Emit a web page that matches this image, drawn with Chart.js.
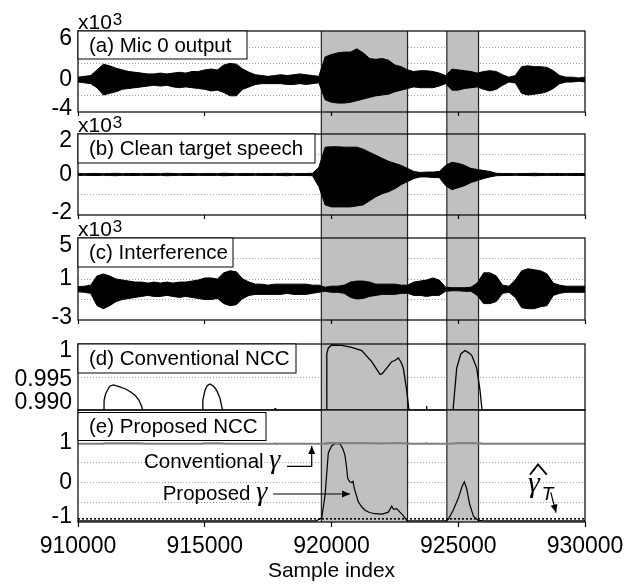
<!DOCTYPE html>
<html>
<head>
<meta charset="utf-8">
<script src="https://cdn.jsdelivr.net/npm/chart.js@4.4.1/dist/chart.umd.min.js"></script>
<style>
  body { margin: 0; background: #fff; }
  #wrap { position: relative; width: 641px; height: 584px; overflow: hidden; }
  canvas { position: absolute; left: 0; }
</style>
</head>
<body>
<div id="wrap">
  <canvas id="pa" width="641" height="134" style="top:0px"></canvas>
  <canvas id="pb" width="641" height="128" style="top:110px"></canvas>
  <canvas id="pc" width="641" height="129" style="top:215px"></canvas>
  <canvas id="pd" width="641" height="94" style="top:320px"></canvas>
  <canvas id="pe" width="641" height="184" style="top:400px"></canvas>
</div>
<script>
const X_MIN = 910000, X_MAX = 930000;

// speech regions (shaded)
const bandStart = [919600, 924550];
const bandEnd = [923000, 925800];

// waveform envelopes (x10^3), one value every 250 samples from 910000
const envStart = 910000, envStep = 250;

const micUpper = [0.3,0.4,0.5,1.2,1.9,1.7,1.4,1.2,1.0,0.9, 0.8,0.7,0.7,0.8,0.7,0.8,0.9,0.8,1.0,1.0,
  1.2,1.3,1.2,1.8,2.0,1.9,1.3,0.9,0.6,0.5, 0.4,0.5,0.6,0.5,0.6,0.7,0.6,0.5,0.4,2.8,
  3.1,3.3,3.4,3.4,3.8,3.3,2.6,2.5,2.6,2.4, 1.8,1.6,1.2,1.0,1.1,1.1,1.0,0.8,0.5,1.3,
  1.2,1.1,1.0,0.8,1.0,1.1,1.0,0.6,0.3,0.5, 1.6,1.7,1.6,1.6,1.5,1.1,0.5,0.3,0.3,0.2, 0.3];
const micLower = [-0.3,-0.4,-0.5,-1.0,-1.9,-1.7,-1.5,-1.2,-1.1,-1.0, -0.9,-0.8,-0.7,-0.8,-0.7,-0.9,-1.0,-0.9,-1.0,-1.1,
  -1.2,-1.4,-1.3,-1.6,-2.0,-2.0,-1.2,-0.9,-0.6,-0.5, -0.5,-0.5,-0.5,-0.6,-0.6,-0.5,-0.6,-0.5,-0.4,-2.5,
  -2.8,-2.9,-2.9,-2.8,-2.6,-2.4,-2.2,-2.0,-1.9,-1.8, -1.5,-1.3,-1.1,-0.9,-1.0,-1.0,-1.0,-0.8,-0.5,-1.3,
  -1.3,-1.1,-1.0,-0.9,-1.2,-1.4,-1.2,-0.7,-0.3,-0.4, -1.7,-1.9,-1.8,-1.7,-1.5,-1.1,-0.5,-0.3,-0.3,-0.2, -0.3];

const cleanUpper = [0.05,0.04,0.05,0.05,0.04,0.05,0.06,0.04,0.05,0.05, 0.04,0.05,0.05,0.04,0.06,0.05,0.04,0.05,0.05,0.04,
  0.05,0.05,0.04,0.06,0.05,0.04,0.05,0.05,0.04,0.05, 0.05,0.04,0.05,0.06,0.04,0.05,0.05,0.06,0.35,1.35,
  1.37,1.37,1.35,1.35,1.35,1.25,1.1,0.95,0.8,0.65, 0.55,0.45,0.3,0.15,0.1,0.12,0.12,0.15,0.45,0.6,
  0.55,0.45,0.3,0.25,0.2,0.15,0.06,0.05,0.05,0.04, 0.05,0.05,0.06,0.05,0.04,0.05,0.05,0.04,0.05,0.05, 0.05];
const cleanLower = [-0.05,-0.04,-0.05,-0.05,-0.04,-0.05,-0.06,-0.04,-0.05,-0.05, -0.04,-0.05,-0.05,-0.04,-0.06,-0.05,-0.04,-0.05,-0.05,-0.04,
  -0.05,-0.05,-0.04,-0.06,-0.05,-0.04,-0.05,-0.05,-0.04,-0.05, -0.05,-0.04,-0.05,-0.06,-0.04,-0.05,-0.05,-0.06,-0.6,-1.5,
  -1.6,-1.6,-1.6,-1.6,-1.55,-1.5,-1.3,-1.1,-0.95,-0.85, -0.7,-0.5,-0.35,-0.2,-0.12,-0.12,-0.15,-0.15,-0.55,-0.75,
  -0.65,-0.55,-0.4,-0.3,-0.2,-0.12,-0.06,-0.05,-0.05,-0.04, -0.05,-0.05,-0.06,-0.05,-0.04,-0.05,-0.05,-0.04,-0.05,-0.05, -0.05];

const interfUpper = [0.25,0.3,0.4,1.3,1.5,1.3,1.0,0.9,0.8,0.7, 0.7,0.6,0.7,0.6,0.7,0.6,0.7,0.7,0.8,0.9,
  1.1,1.1,1.0,1.6,1.8,1.7,1.0,0.7,0.5,0.5, 0.4,0.5,0.5,0.5,0.5,0.5,0.5,0.4,0.4,0.2,
  0.3,0.3,0.4,0.7,0.8,0.8,0.7,0.5,0.5,0.5, 0.5,0.4,0.4,0.7,0.8,0.9,1.1,0.9,0.2,0.15,
  0.15,0.15,0.2,0.6,1.6,1.6,1.3,0.4,0.3,0.9, 1.8,2.0,1.9,1.8,1.5,0.6,0.4,0.3,0.3,0.3, 0.3];
const interfLower = [-0.25,-0.3,-0.4,-1.6,-1.9,-1.6,-1.2,-1.0,-0.9,-0.8, -0.7,-0.6,-0.7,-0.7,-0.6,-0.7,-0.8,-0.7,-0.8,-0.9,
  -1.0,-1.0,-0.9,-1.4,-1.6,-1.5,-0.9,-0.6,-0.5,-0.5, -0.5,-0.5,-0.5,-0.4,-0.5,-0.5,-0.5,-0.4,-0.3,-0.2,
  -0.3,-0.3,-0.4,-0.8,-0.95,-0.9,-0.7,-0.6,-0.5,-0.5, -0.5,-0.4,-0.4,-0.6,-0.6,-0.7,-0.6,-0.6,-0.2,-0.15,
  -0.15,-0.2,-0.2,-0.6,-1.4,-1.4,-1.2,-0.4,-0.3,-0.8, -1.8,-1.9,-1.9,-1.7,-1.6,-0.6,-0.4,-0.3,-0.3,-0.3, -0.3];

// conventional NCC (panel d, and conventional gamma in panel e)
const nccX = [910000,911010,911030,911093,911250,911394,911650,911854,912050,912248,912400,912513,912578,912650,
  914900,914925,915010,915100,915207,915350,915471,915600,915669,915734,915800,
  917740,917772,917800,
  919790,919815,919875,920008,920400,920798,921192,921586,921914,922000,922178,922376,922500,922636,922750,922833,922967,923070,923150,
  923730,923755,923780,
  924790,924806,924939,925100,925267,925400,925531,925728,925859,925950,926050,
  930000];
const nccVal = [0.984,0.984,0.9915,0.9925,0.9936,0.9938,0.9935,0.99322,0.9928,0.99225,0.9915,0.99055,0.9895,0.984,
  0.984,0.9915,0.993,0.9937,0.99394,0.9936,0.99297,0.9918,0.99055,0.9895,0.984,
  0.984,0.9903,0.984,
  0.984,0.9985,0.9994,0.99985,0.9998,0.9995,0.99901,0.99732,0.99539,0.9955,0.99635,0.99732,0.9975,0.9979,0.9972,0.99635,0.99297,0.9895,0.984,
  0.984,0.9906,0.984,
  0.984,0.9905,0.99635,0.9985,0.99901,0.9987,0.99829,0.99635,0.99297,0.9895,0.984,
  0.984];

// proposed NCC (panel e)
const propX = [910000,919400,919614,919750,919874,920000,920140,920340,920450,920533,920600,920640,920720,920798,920850,920900,
  921058,921200,921322,921500,921717,922000,922241,922376,922450,922573,922700,922821,922967,923050,
  924500,924609,924800,925000,925150,925240,925330,925450,925600,925792,926000,930000];
const propVal = [-0.97,-0.97,-0.9,-0.3,0.75,0.93,0.99,0.98,0.85,0.69,0.35,0.1,0.02,0.0,0.03,-0.15,
  -0.49,-0.62,-0.7,-0.76,-0.79,-0.8,-0.75,-0.6,-0.68,-0.66,-0.75,-0.83,-0.96,-0.97,
  -0.97,-0.93,-0.7,-0.4,-0.1,0.02,-0.15,-0.55,-0.85,-0.96,-0.97,-0.97];

const gammaT = -0.92;

const SANS = '"Liberation Sans", Arial, sans-serif';
const SERIF = '"Liberation Serif", "Times New Roman", serif';

Chart.defaults.font.family = SANS;
Chart.defaults.color = '#000';
Chart.defaults.animation = false;

function envPoints(vals) {
  return vals.map((v, i) => ({ x: envStart + i * envStep, y: v }));
}
function xyPoints(xs, ys) {
  return xs.map((x, i) => ({ x: x, y: ys[i] }));
}

function decor(s) {
  return {
    id: 'decor' + s.name,
    beforeDatasetsDraw(chart) {
      const { ctx, chartArea: a } = chart;
      const x = chart.scales.x;
      const y1 = s.bandToCanvas ? chart.height : a.bottom;
      ctx.save();
      bandStart.forEach((b, i) => {
        const x0 = x.getPixelForValue(b), x1 = x.getPixelForValue(bandEnd[i]);
        ctx.fillStyle = '#c0c0c0';
        ctx.fillRect(x0, a.top, x1 - x0, y1 - a.top);
        ctx.strokeStyle = '#222';
        ctx.lineWidth = 1.2;
        ctx.beginPath();
        ctx.moveTo(x0, a.top); ctx.lineTo(x0, y1);
        ctx.moveTo(x1, a.top); ctx.lineTo(x1, y1);
        ctx.stroke();
      });
      ctx.restore();
    },
    afterDraw(chart) {
      const { ctx, chartArea: a } = chart;
      ctx.save();
      ctx.strokeStyle = '#000';
      ctx.lineWidth = 1.2;
      ctx.strokeRect(a.left, a.top, a.right - a.left, a.bottom - a.top);
      if (s.exp) {
        ctx.fillStyle = '#000';
        ctx.textAlign = 'left';
        ctx.textBaseline = 'alphabetic';
        ctx.font = '21px ' + SANS;
        ctx.fillText('x10', a.left, a.top - 2);
        const w = ctx.measureText('x10').width;
        ctx.font = '17px ' + SANS;
        ctx.fillText('3', a.left + w + 1, a.top - 6);
      }
      if (s.box) {
        const t = a.top + s.box.dy;
        ctx.fillStyle = '#fff';
        ctx.fillRect(a.left, t, s.box.right - a.left, s.box.h);
        ctx.lineWidth = 1;
        ctx.strokeRect(a.left, t, s.box.right - a.left, s.box.h);
        ctx.fillStyle = '#000';
        ctx.font = '20.5px ' + SANS;
        ctx.textAlign = 'left';
        ctx.textBaseline = 'middle';
        ctx.fillText(s.box.text, a.left + 11, t + s.box.h / 2 + 1);
      }
      const xs = chart.scales.x, ys = chart.scales.y;
      (s.notes || []).forEach(n => {
        let px = xs.getPixelForValue(n.x);
        const py = ys.getPixelForValue(n.y);
        ctx.textAlign = 'left';
        ctx.textBaseline = 'alphabetic';
        ctx.fillStyle = '#000';
        n.parts.forEach(p => {
          ctx.font = p[1];
          ctx.fillText(p[0], px, py);
          px += ctx.measureText(p[0]).width;
        });
      });
      (s.arrows || []).forEach(ar => {
        const pts = ar.pts.map(p => [xs.getPixelForValue(p[0]), ys.getPixelForValue(p[1])]);
        ctx.strokeStyle = '#000';
        ctx.fillStyle = '#000';
        ctx.lineWidth = ar.width || 1.2;
        ctx.beginPath();
        ctx.moveTo(pts[0][0], pts[0][1]);
        for (let i = 1; i < pts.length; i++) ctx.lineTo(pts[i][0], pts[i][1]);
        ctx.stroke();
        if (ar.head) {
          const [x0, y0] = pts[pts.length - 2], [x1, y1] = pts[pts.length - 1];
          const ang = Math.atan2(y1 - y0, x1 - x0);
          ctx.beginPath();
          ctx.moveTo(x1, y1);
          ctx.lineTo(x1 - 8 * Math.cos(ang) + 3.5 * Math.sin(ang), y1 - 8 * Math.sin(ang) - 3.5 * Math.cos(ang));
          ctx.lineTo(x1 - 8 * Math.cos(ang) - 3.5 * Math.sin(ang), y1 - 8 * Math.sin(ang) + 3.5 * Math.cos(ang));
          ctx.closePath();
          ctx.fill();
        }
      });
      ctx.restore();
    }
  };
}

function key(v) { return String(+v.toFixed(4)); }

function yAxis(min, max, step, labels, shifts, hide) {
  return {
    min: min, max: max,
    afterFit: s => { s.width = 78; s.paddingTop = 0; s.paddingBottom = 0; },
    border: { display: false, dash: [1, 2] },
    grid: {
      drawTicks: false,
      lineWidth: 1,
      color: c => {
        const v = c.tick ? c.tick.value : null;
        if (v === null || v <= min + 1e-9 || v >= max - 1e-9 || hide.includes(key(v))) return 'rgba(0,0,0,0)';
        return '#a0a0a0';
      }
    },
    ticks: {
      stepSize: step,
      autoSkip: false,
      includeBounds: false,
      padding: 6,
      color: '#000',
      font: c => {
        const sh = c.tick ? Math.abs(shifts[key(c.tick.value)] || 0) : 0;
        return { size: 23, lineHeight: sh ? (2 * sh) + 'px' : 1.2 };
      },
      callback: v => {
        const t = labels[key(v)];
        if (t === undefined) return '';
        const sh = shifts[key(v)] || 0;
        return sh > 0 ? ['', t] : sh < 0 ? [t, ''] : t;
      }
    }
  };
}

function xAxis(h, tickLen, showLabels) {
  return {
    type: 'linear', min: X_MIN, max: X_MAX,
    display: h > 0,
    afterFit: s => { s.height = h; s.paddingLeft = 0; s.paddingRight = 0; },
    border: { display: false },
    grid: { drawOnChartArea: false, drawTicks: true, tickLength: tickLen, tickColor: '#000', tickWidth: 1.2, z: 1 },
    ticks: { stepSize: 5000, display: showLabels, autoSkip: false, maxRotation: 0, padding: 6,
      font: { size: 23 }, color: '#000', callback: v => String(v) },
    title: { display: showLabels, text: 'Sample index', font: { size: 21 }, color: '#000', padding: 0 }
  };
}

function lineDs(points, color, width, extra) {
  return Object.assign({ data: points, borderColor: color, backgroundColor: color, borderWidth: width,
    pointRadius: 0, tension: 0, fill: false }, extra || {});
}

function panel(id, o) {
  return new Chart(document.getElementById(id), {
    type: 'line',
    data: { datasets: o.datasets },
    options: {
      responsive: false,
      animation: false,
      layout: { padding: { left: 0, right: 56, top: o.padTop, bottom: o.padBottom || 0 } },
      plugins: { legend: { display: false }, tooltip: { enabled: false } },
      scales: { x: o.x, y: o.y }
    },
    plugins: [decor(o.decor)]
  });
}

function envelope(upper, lower) {
  return [
    lineDs(envPoints(upper), '#000', 1, { fill: '+1', backgroundColor: '#000' }),
    lineDs(envPoints(lower), '#000', 1)
  ];
}

panel('pa', {
  padTop: 31,
  datasets: envelope(micUpper, micLower),
  x: xAxis(22, 4, false),
  y: yAxis(-4, 6, 2, { '6': '6', '0': '0', '-4': '-4' }, { '6': 8, '-4': -3 }, []),
  decor: { name: 'a', bandToCanvas: true, exp: true, box: { text: '(a) Mic 0 output', right: 247, dy: 0, h: 28 } }
});

panel('pb', {
  padTop: 24,
  datasets: envelope(cleanUpper, cleanLower),
  x: xAxis(23, 4, false),
  y: yAxis(-2, 2, 1, { '2': '2', '0': '0', '-2': '-2' }, { '2': 7, '-2': -2 }, []),
  decor: { name: 'b', bandToCanvas: true, exp: true, box: { text: '(b) Clean target speech', right: 315, dy: 0, h: 29 } }
});

panel('pc', {
  padTop: 23,
  datasets: envelope(interfUpper, interfLower),
  x: xAxis(24, 4, false),
  y: yAxis(-3, 5, 2, { '5': '5', '1': '1', '-3': '-3' }, { '5': 8, '-3': -2 }, []),
  decor: { name: 'c', bandToCanvas: true, exp: true, box: { text: '(c) Interference', right: 233, dy: 0, h: 29 } }
});

panel('pd', {
  padTop: 24, padBottom: 4,
  datasets: [lineDs(xyPoints(nccX, nccVal), '#000', 1.3)],
  x: xAxis(0, 0, false),
  y: yAxis(0.99, 1, 0.005, { '1': '1', '0.995': '0.995', '0.99': '0.990' }, { '1': 7, '0.995': 3, '0.99': -7 }, []),
  decor: { name: 'd', bandToCanvas: false, exp: false, box: { text: '(d) Conventional NCC', right: 296, dy: 0, h: 29 } }
});

panel('pe', {
  padTop: 10,
  datasets: [
    lineDs([{ x: X_MIN, y: gammaT }, { x: X_MAX, y: gammaT }], '#000', 1.6, { borderDash: [2, 2] }),
    lineDs(xyPoints(nccX, nccVal), '#808080', 2.2),
    lineDs(xyPoints(propX, propVal), '#000', 1.2)
  ],
  x: xAxis(62, 5, true),
  y: yAxis(-1, 1.84, 0.5, { '1': '1', '0': '0', '-1': '-1' }, { '-1': -5 }, ['1', '1.5']),
  decor: {
    name: 'e', bandToCanvas: false, exp: false,
    box: { text: '(e) Proposed NCC', right: 266, dy: 2.5, h: 28 },
    notes: [
      { x: 912604, y: 0.37, parts: [['Conventional ', '20.5px ' + SANS], ['γ', 'italic 28px ' + SERIF]] },
      { x: 913341, y: -0.44, parts: [['Proposed ', '20.5px ' + SANS], ['γ', 'italic 28px ' + SERIF]] },
      { x: 927752, y: -0.23, parts: [['γ', 'italic 30px ' + SERIF]] },
      { x: 928293, y: -0.43, parts: [['T', 'italic 19px ' + SANS]] }
    ],
    arrows: [
      { pts: [[918245, 0.41], [919219, 0.41], [919219, 0.93]], head: true },
      { pts: [[917693, -0.29], [920730, -0.29]], head: true },
      { pts: [[928650, -0.25], [928858, -0.76]], head: true },
      { pts: [[927831, 0.2], [928147, 0.46], [928490, 0.2]], head: false, width: 1.8 }
    ]
  }
});
</script>
</body>
</html>
